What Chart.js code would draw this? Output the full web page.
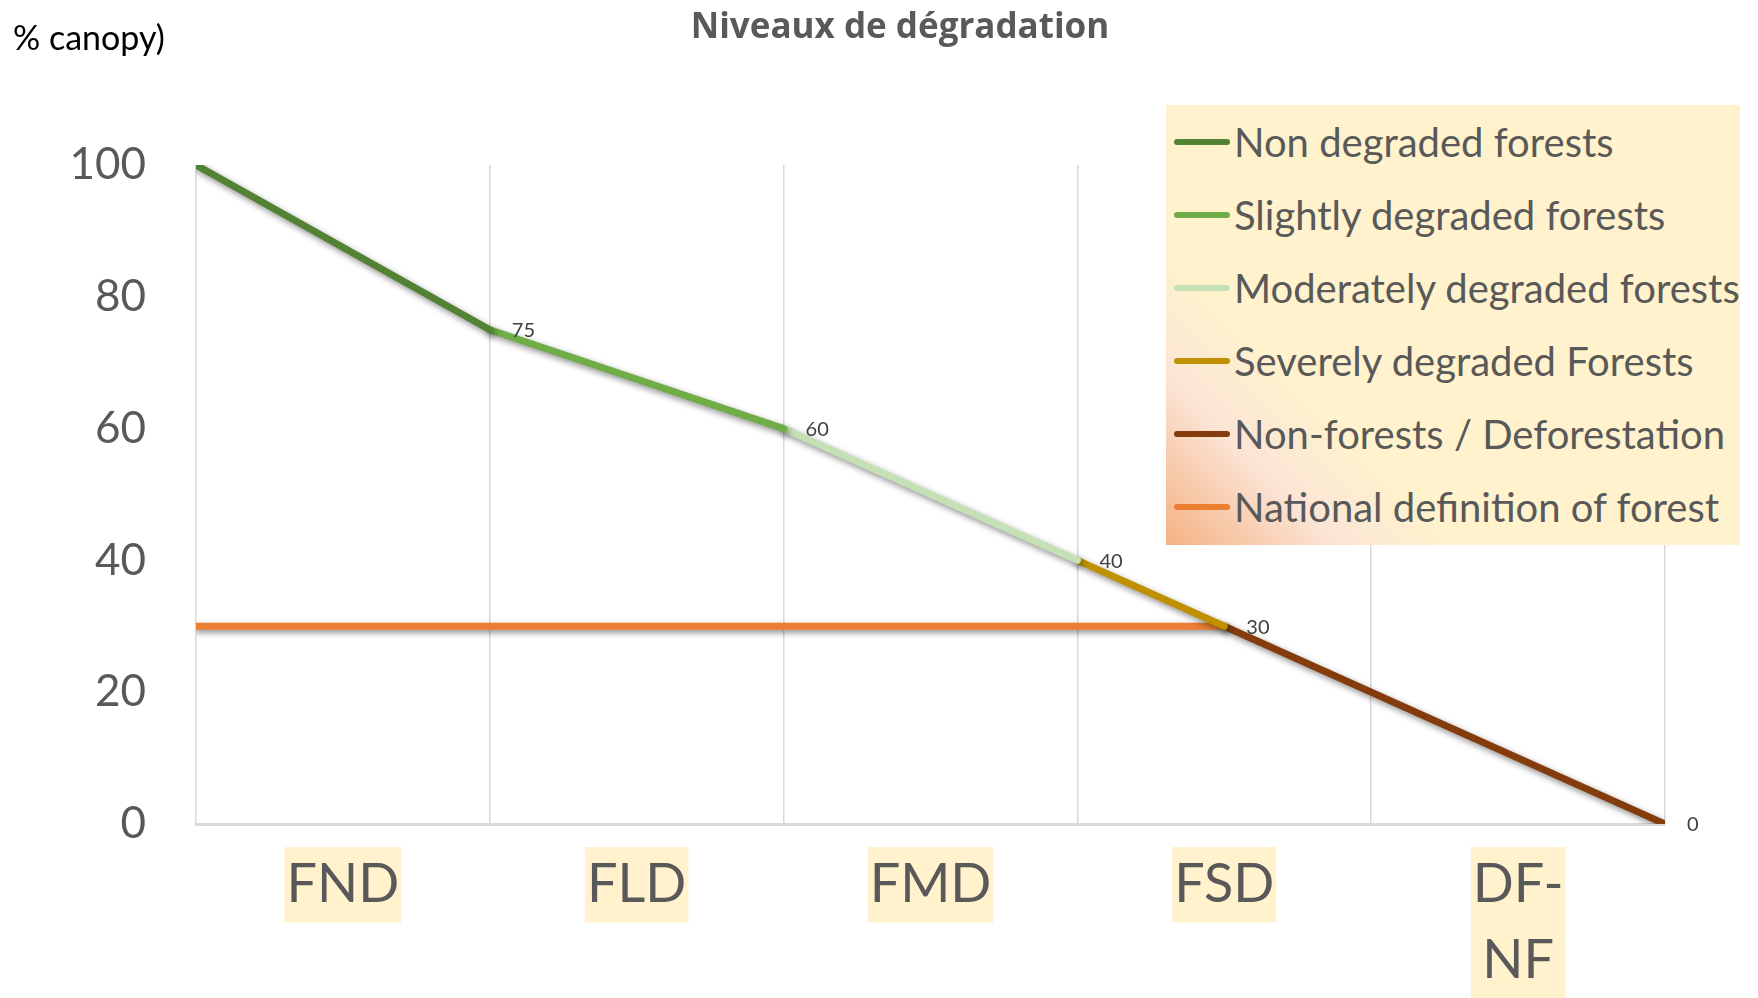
<!DOCTYPE html>
<html>
<head>
<meta charset="utf-8">
<script src="https://cdn.jsdelivr.net/npm/chart.js@4.4.1/dist/chart.umd.min.js"></script>
<style>
  html, body { margin: 0; padding: 0; background: #fff; }
  #wrap { position: relative; width: 1758px; height: 998px; font-family: Lato, 'Open Sans', sans-serif; }
  #chart { position: absolute; left: 0; top: 0; }
  #title { position: absolute; left: 0; width: 1800px; top: 1px; text-align: center; font-family: 'Open Sans', sans-serif; font-size: 35px; font-weight: bold; color: #595959; }
  #ylabel { position: absolute; left: 13px; top: 16px; font-size: 34px; color: #000; }
  #legend { position: absolute; left: 1166px; top: 105px; width: 574px; height: 440px;
    background: linear-gradient(45deg, #f4b183 0%, #fbe5d6 17%, #fff2cc 29%, #fff2cc 100%); }
  .item { position: absolute; left: 0; height: 50px; display: flex; align-items: center; font-size: 40px; color: #595959; white-space: nowrap; }
  .swatch { width: 56px; height: 6px; border-radius: 3px; margin-left: 8px; margin-right: 4px; }
</style>
</head>
<body>
<div id="wrap">
  <canvas id="chart" width="1758" height="998"></canvas>
  <div id="title">Niveaux de dégradation</div>
  <div id="ylabel">% canopy)</div>
  <div id="legend"></div>
</div>
<script>
const categories = ['FND', 'FLD', 'FMD', 'FSD', ['DF-', 'NF']];
const seriesNames = ['Non degraded forests', 'Slightly degraded forests', 'Moderately degraded forests',
  'Severely degraded Forests', 'Non-forests / Deforestation', 'National definition of forest'];
const seriesColors = ['#548235', '#70ad47', '#c5e0b4', '#bf9000', '#843c0c', '#ed7d31'];

// x = position on the degradation scale (gridlines between classes), y = % canopy
const nonDegraded = [{ x: 0, y: 100 }, { x: 1, y: 75 }];
const slightly = [{ x: 1, y: 75 }, { x: 2, y: 60 }];
const moderately = [{ x: 2, y: 60 }, { x: 3, y: 40 }];
const severely = [{ x: 3, y: 40 }, { x: 3.5, y: 30 }];
const nonForest = [{ x: 3.5, y: 30 }, { x: 5, y: 0 }];
const nationalDef = [{ x: 0, y: 30 }, { x: 3.5, y: 30 }];
const allSeries = [nonDegraded, slightly, moderately, severely, nonForest, nationalDef];
const labelled = [true, true, true, true, true, false];

const yTicks = [0, 20, 40, 60, 80, 100];

const X_FONT = { family: 'Lato', size: 54, lineHeight: 1.4 };
const X_PAD = 23;

const shadow = {
  id: 'shadow',
  beforeDatasetDraw(chart) {
    const c = chart.ctx;
    c.shadowColor = 'rgba(0,0,0,0.45)';
    c.shadowBlur = 6;
    c.shadowOffsetX = 2;
    c.shadowOffsetY = 3;
  },
  afterDatasetDraw(chart) {
    const c = chart.ctx;
    c.shadowColor = 'transparent';
    c.shadowBlur = 0;
    c.shadowOffsetX = 0;
    c.shadowOffsetY = 0;
  }
};

// cream boxes behind the category labels
const labelBoxes = {
  id: 'labelBoxes',
  beforeDraw(chart) {
    const c = chart.ctx, xs = chart.scales.x;
    const lh = X_FONT.size * X_FONT.lineHeight;
    c.save();
    c.font = X_FONT.size + 'px ' + X_FONT.family;
    c.fillStyle = '#fff2cc';
    categories.forEach((lab, i) => {
      const lines = Array.isArray(lab) ? lab : [lab];
      const w = Math.max(...lines.map(l => c.measureText(l).width)) + 4;
      const cx = xs.getPixelForValue(i + 0.5);
      c.fillRect(cx - w / 2, xs.top + X_PAD, w, lines.length * lh);
    });
    c.restore();
  }
};

const endLabels = {
  id: 'endLabels',
  afterDatasetsDraw(chart) {
    const c = chart.ctx, xs = chart.scales.x, ys = chart.scales.y;
    c.save();
    c.font = '20px Lato, sans-serif';
    c.fillStyle = '#404040';
    c.textBaseline = 'middle';
    chart.data.datasets.forEach((ds, i) => {
      if (!labelled[i]) return;
      const p = ds.data[ds.data.length - 1];
      c.fillText(String(p.y), xs.getPixelForValue(p.x) + 22, ys.getPixelForValue(p.y) + 1);
    });
    c.restore();
  }
};

const chart = new Chart('chart', {
  type: 'line',
  data: {
    datasets: allSeries.map((d, i) => ({
      label: seriesNames[i], data: d, borderColor: seriesColors[i], backgroundColor: seriesColors[i],
      borderWidth: 7, pointRadius: 0, borderCapStyle: 'round', tension: 0
    }))
  },
  plugins: [labelBoxes, shadow, endLabels],
  options: {
    responsive: false, animation: false,
    layout: { padding: { left: 0, top: 165, right: 93, bottom: 0 } },
    plugins: { legend: { display: false }, tooltip: { enabled: false } },
    scales: {
      x: {
        type: 'linear', min: 0, max: 5,
        afterBuildTicks: s => { s.ticks = []; for (let i = 0; i <= 10; i++) s.ticks.push({ value: i / 2 }); },
        afterFit: s => { s.height = 998 - 824; },
        grid: { color: c => c.tick && c.tick.value % 1 === 0 ? '#d9d9d9' : 'transparent', lineWidth: 1.5, drawTicks: false, tickLength: 0 },
        border: { color: '#d9d9d9', width: 3 },
        ticks: {
          autoSkip: false, maxRotation: 0, padding: X_PAD, color: '#595959', font: X_FONT,
          callback: v => (v % 1 === 0 ? '' : categories[Math.floor(v)])
        }
      },
      y: {
        min: 0, max: 100,
        afterBuildTicks: s => { s.ticks = yTicks.map(v => ({ value: v })); },
        afterFit: s => { s.width = 196; },
        grid: { display: false, drawTicks: false, tickLength: 0 },
        border: { display: false },
        ticks: { padding: 50, color: '#595959', font: { family: 'Lato', size: 44 } }
      }
    }
  }
});

document.getElementById('legend').innerHTML = chart.data.datasets.map((ds, i) =>
  `<div class="item" style="top:${12 + i * 73}px"><span class="swatch" style="background:${ds.borderColor}"></span>${ds.label}</div>`
).join('');
</script>
</body>
</html>
